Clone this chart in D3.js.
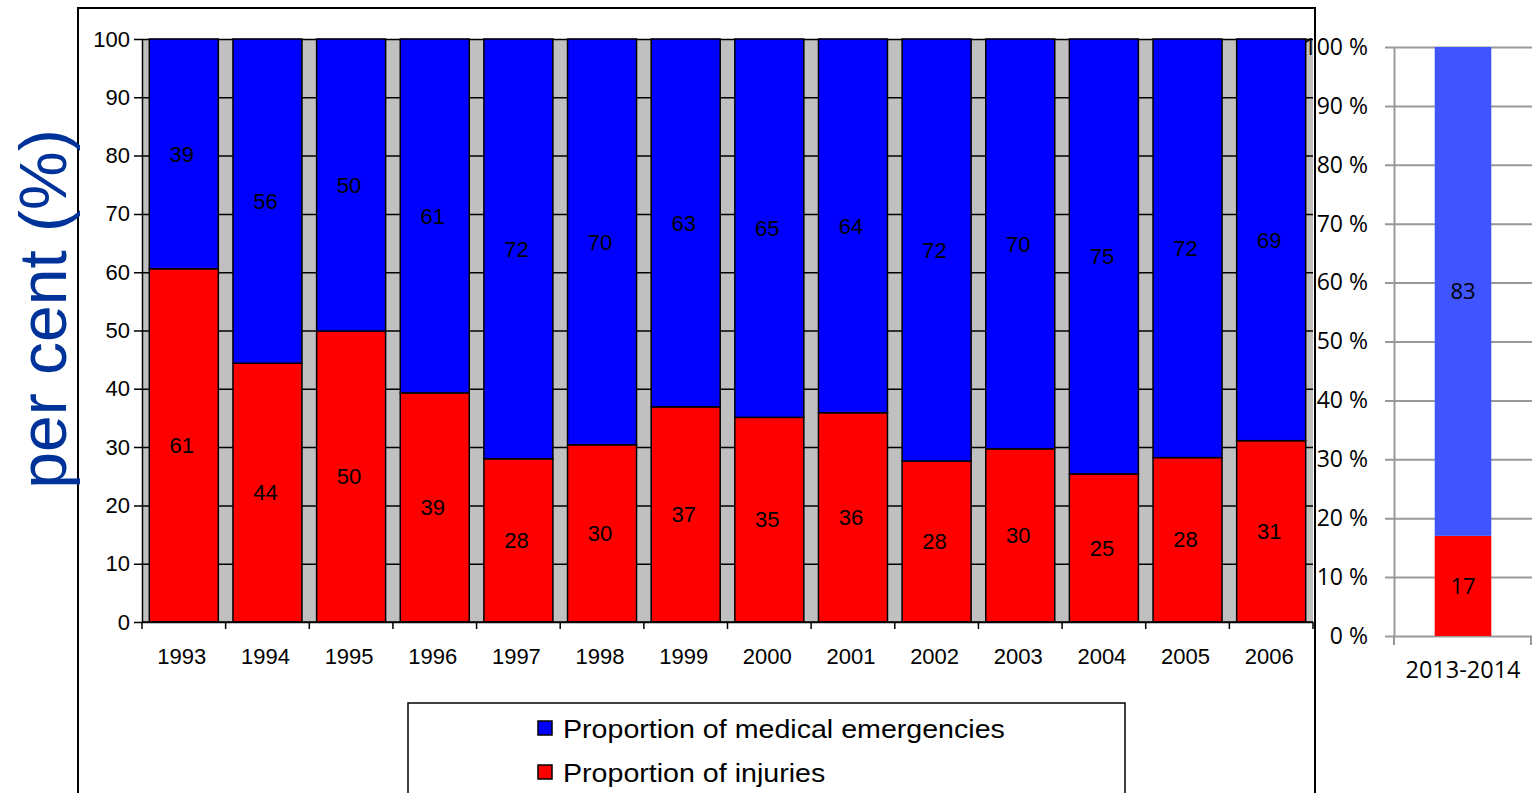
<!DOCTYPE html>
<html>
<head>
<meta charset="utf-8">
<script src="https://cdn.jsdelivr.net/npm/d3@7"></script>
<style>
  body { margin: 0; background: #fff; }
  svg { display: block; }
</style>
</head>
<body>
<div id="viz"></div>
<script>
// data
var years = ["1993", "1994", "1995", "1996", "1997", "1998", "1999", "2000", "2001", "2002", "2003", "2004", "2005", "2006"]
var injuries = [60.6, 44.4, 49.9, 39.3, 28.0, 30.4, 36.9, 35.1, 35.9, 27.6, 29.7, 25.4, 28.2, 31.1]
var medical = [39.4, 55.6, 50.1, 60.7, 72.0, 69.6, 63.1, 64.9, 64.1, 72.4, 70.3, 74.6, 71.8, 68.9]
var yTicks = [0, 10, 20, 30, 40, 50, 60, 70, 80, 90, 100]

var recentPeriod = ["2013-2014"]
var recentInjuries = [17]
var recentMedical = [83]

var legendLabels = ["Proportion of medical emergencies", "Proportion of injuries"]

var w = 1532
var h = 793
var font = "'Liberation Sans', Arial, sans-serif"
var font2 = "'Open Sans', 'Noto Sans', sans-serif"

var svg = d3.select("#viz")
  .append("svg")
  .attr("width", w)
  .attr("height", h)

// outer frame of the old chart
svg.append("rect")
  .attr("x", 78).attr("y", 8)
  .attr("width", 1237).attr("height", 820)
  .attr("fill", "none").attr("stroke", "#000").attr("stroke-width", 2)

// ---- main chart ----
var x = d3.scaleBand().domain(years).range([142, 1313]).paddingInner(0.175).paddingOuter(0.0875)
var y = d3.scaleLinear().domain([0, 100]).range([622, 39])

svg.append("rect")
  .attr("x", 142).attr("y", y(100))
  .attr("width", 1313 - 142).attr("height", y(0) - y(100))
  .attr("fill", "#c0c0c0")

// gridlines + left axis
var yAxis = d3.axisLeft(y).tickValues(yTicks).tickSize(-(1313 - 142)).tickSizeOuter(0).tickPadding(12)
var gy = svg.append("g").attr("transform", "translate(142,0)").call(yAxis)
gy.select(".domain").attr("stroke", "#000").attr("stroke-width", 1.5)
gy.selectAll(".tick line").attr("stroke", "#000").attr("stroke-width", 1.5).attr("x1", -8)
gy.selectAll(".tick text").attr("font-family", font).attr("font-size", 22).attr("fill", "#000")

var rows = years.map((d, i) => ({ year: d, inj: injuries[i], med: medical[i] }))

// injuries (bottom)
svg.selectAll(".inj").data(rows)
  .enter()
  .append("rect")
  .attr("class", "inj")
  .attr("x", d => x(d.year))
  .attr("width", x.bandwidth())
  .attr("y", d => y(d.inj))
  .attr("height", d => y(0) - y(d.inj))
  .attr("fill", "#ff0000")
  .attr("stroke", "#000").attr("stroke-width", 1.5)

// medical emergencies (top)
svg.selectAll(".med").data(rows)
  .enter()
  .append("rect")
  .attr("class", "med")
  .attr("x", d => x(d.year))
  .attr("width", x.bandwidth())
  .attr("y", d => y(d.inj + d.med))
  .attr("height", d => y(d.inj) - y(d.inj + d.med))
  .attr("fill", "#0000ff")
  .attr("stroke", "#000").attr("stroke-width", 1.5)

// segment labels
svg.selectAll(".lblInj").data(rows)
  .enter()
  .append("text")
  .attr("x", d => x(d.year) + x.bandwidth() / 2 - 2)
  .attr("y", d => y(d.inj / 2))
  .attr("dy", "0.35em")
  .attr("text-anchor", "middle")
  .attr("font-family", font).attr("font-size", 22)
  .text(d => Math.round(d.inj))

svg.selectAll(".lblMed").data(rows)
  .enter()
  .append("text")
  .attr("x", d => x(d.year) + x.bandwidth() / 2 - 2)
  .attr("y", d => y(d.inj + d.med / 2))
  .attr("dy", "0.35em")
  .attr("text-anchor", "middle")
  .attr("font-family", font).attr("font-size", 22)
  .text(d => Math.round(d.med))

// bottom axis: ticks at band boundaries
var gx = svg.append("g").attr("transform", "translate(0,622)")
gx.append("line").attr("x1", 142).attr("x2", 1313).attr("stroke", "#000").attr("stroke-width", 1.5)
gx.selectAll(".bt").data(years.concat(["end"]))
  .enter()
  .append("line")
  .attr("x1", (d, i) => 142 + i * x.step())
  .attr("x2", (d, i) => 142 + i * x.step())
  .attr("y1", 0).attr("y2", 7)
  .attr("stroke", "#000").attr("stroke-width", 1.5)
gx.selectAll(".yl").data(years)
  .enter()
  .append("text")
  .attr("x", d => x(d) + x.bandwidth() / 2 - 2)
  .attr("y", 42)
  .attr("text-anchor", "middle")
  .attr("font-family", font).attr("font-size", 22)
  .text(d => d)

// y title
svg.append("text")
  .attr("transform", "translate(66,309) rotate(-90)")
  .attr("text-anchor", "middle")
  .attr("font-family", font).attr("font-size", 66)
  .attr("fill", "#003399")
  .text("per cent (%)")

// legend
svg.append("rect")
  .attr("x", 408).attr("y", 703)
  .attr("width", 717).attr("height", 120)
  .attr("fill", "#fff").attr("stroke", "#000").attr("stroke-width", 1.5)
var legendColors = ["#0000ff", "#ff0000"]
var lg = svg.selectAll(".lg").data(legendLabels)
  .enter()
  .append("g")
  .attr("transform", (d, i) => "translate(538," + (721 + i * 44) + ")")
lg.append("rect")
  .attr("width", 14).attr("height", 14)
  .attr("fill", (d, i) => legendColors[i])
  .attr("stroke", "#000").attr("stroke-width", 1.5)
lg.append("text")
  .attr("x", 25).attr("y", 17)
  .attr("font-family", font).attr("font-size", 26)
  .attr("transform", "scale(1.1,1)")
  .attr("transform-origin", "25 0")
  .text(d => d)

// ---- recent chart ----
var x2 = d3.scaleBand().domain(recentPeriod).range([1394, 1532]).paddingInner(0.59).paddingOuter(0.295)
var y2 = d3.scaleLinear().domain([0, 100]).range([636, 47])

var gy2 = svg.append("g").attr("transform", "translate(1394,0)")
  .call(d3.axisLeft(y2).tickValues(yTicks).tickSize(-(1532 - 1394)).tickSizeOuter(0).tickPadding(26).tickFormat(d => d + " %"))
gy2.select(".domain").attr("stroke", "#999").attr("stroke-width", 2)
gy2.selectAll(".tick line").attr("stroke", "#999").attr("stroke-width", 2).attr("x1", -9)
gy2.selectAll(".tick text").attr("font-family", font2).attr("font-size", 23).attr("fill", "#000")

var rows2 = recentPeriod.map((d, i) => ({ p: d, inj: recentInjuries[i], med: recentMedical[i] }))

svg.selectAll(".inj2").data(rows2)
  .enter()
  .append("rect")
  .attr("x", d => x2(d.p)).attr("width", x2.bandwidth())
  .attr("y", d => y2(d.inj)).attr("height", d => y2(0) - y2(d.inj))
  .attr("fill", "#ff0000")
svg.selectAll(".med2").data(rows2)
  .enter()
  .append("rect")
  .attr("x", d => x2(d.p)).attr("width", x2.bandwidth())
  .attr("y", d => y2(d.inj + d.med)).attr("height", d => y2(d.inj) - y2(d.inj + d.med))
  .attr("fill", "#4055ff")

svg.selectAll(".l2a").data(rows2)
  .enter()
  .append("text")
  .attr("x", d => x2(d.p) + x2.bandwidth() / 2)
  .attr("y", d => y2(d.inj / 2)).attr("dy", "0.35em")
  .attr("text-anchor", "middle")
  .attr("font-family", font2).attr("font-size", 22)
  .text(d => d.inj)
svg.selectAll(".l2b").data(rows2)
  .enter()
  .append("text")
  .attr("x", d => x2(d.p) + x2.bandwidth() / 2)
  .attr("y", d => y2(d.inj + d.med / 2)).attr("dy", "0.35em")
  .attr("text-anchor", "middle")
  .attr("font-family", font2).attr("font-size", 22)
  .text(d => d.med)

var gx2 = svg.append("g").attr("transform", "translate(0,636)")
gx2.selectAll(".t2").data([1394, 1531])
  .enter()
  .append("line")
  .attr("x1", d => d).attr("x2", d => d)
  .attr("y1", 0).attr("y2", 9)
  .attr("stroke", "#999").attr("stroke-width", 2)
gx2.selectAll(".xl2").data(recentPeriod)
  .enter()
  .append("text")
  .attr("x", d => x2(d) + x2.bandwidth() / 2)
  .attr("y", 42)
  .attr("text-anchor", "middle")
  .attr("font-family", font2).attr("font-size", 23.5)
  .text(d => d)
</script>
</body>
</html>
